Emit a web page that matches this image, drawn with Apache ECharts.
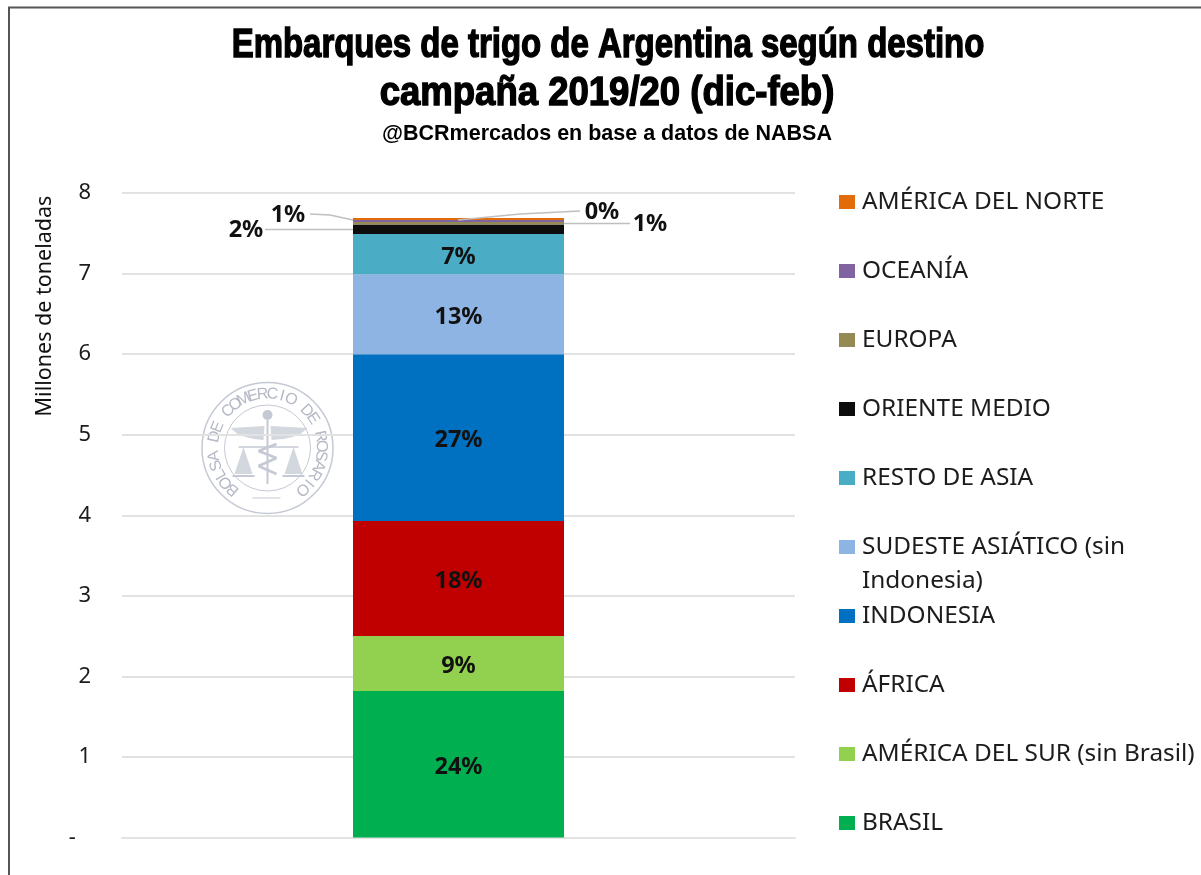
<!DOCTYPE html>
<html>
<head>
<meta charset="utf-8">
<style>html,body{margin:0;padding:0;background:#fff}#c{width:1201px;height:875px}</style>
<script src="https://cdn.jsdelivr.net/npm/echarts@6/dist/echarts.min.js"></script>
</head>
<body>
<div id="c"></div>
<script>
const categories = ['2019/20'];
const seriesNames = ['BRASIL','AMÉRICA DEL SUR (sin Brasil)','ÁFRICA','INDONESIA','SUDESTE ASIÁTICO (sin Indonesia)','RESTO DE ASIA','ORIENTE MEDIO','EUROPA','OCEANÍA','AMÉRICA DEL NORTE'];
const seriesValues = [1.82,0.68,1.43,2.07,0.99,0.50,0.12,0.03,0.025,0.025];
const shareLabels = ['24%','9%','18%','27%','13%','7%','2%','1%','0%','1%'];
const seriesColors = ['#00B050','#92D050','#C00000','#0070C0','#8EB4E3','#4BACC6','#0D0D0D','#948A54','#8064A2','#E36C09'];
const tickLabels = ['-  \u2009','1','2','3','4','5','6','7','8'];

const FONT = '"Noto Sans"';
const TXT = '#1c1c1c';
const outside = {
  6:{x:246,y:230,line:[[265,229.5],[353,229.5]]},
  7:{x:288,y:215,line:[[310,214],[330,215],[353,220]]},
  8:{x:602,y:212,line:[[580,211],[520,214],[458,220]]},
  9:{x:650,y:224,line:[[630,223.5],[564,223.5]]}
};

const series = seriesNames.map((name,i)=>{
  const s = {
    name, type:'bar', stack:'total', barWidth:211, data:[seriesValues[i]],
    itemStyle:{color:seriesColors[i]},
    label:{show:true,position:'inside',offset:[0,3],formatter:()=>shareLabels[i],fontFamily:FONT,fontWeight:'bold',fontSize:23.5,color:'#111'}
  };
  if(outside[i]){
    const o = outside[i];
    s.labelLayout = {x:o.x,y:o.y,align:'center',verticalAlign:'middle',hideOverlap:false};
  }
  return s;
});
const leaderLines = Object.values(outside).map(o=>({type:'polyline',z:20,shape:{points:o.line},style:{fill:null,stroke:'#bfbfbf',lineWidth:1.5}}));

// Watermark seal
const sc = [267.5,448];
const sealColor = '#c4c9d3';
const seal = [
  {type:'circle',shape:{cx:sc[0],cy:sc[1],r:65.5},style:{fill:'#fff',stroke:sealColor,lineWidth:1.5}},
  {type:'circle',shape:{cx:sc[0],cy:sc[1],r:43},style:{fill:'#fff',stroke:sealColor,lineWidth:1}}
];
const sealText = 'BOLSA DE COMERCIO DE ROSARIO';
const startDeg = -140, stepDeg = 280/(sealText.length-1);
[...sealText].forEach((ch,k)=>{
  const a = (startDeg+k*stepDeg)*Math.PI/180;
  seal.push({type:'text',x:sc[0]+54*Math.sin(a),y:sc[1]-54*Math.cos(a),rotation:-a,
    style:{text:ch,fontFamily:'"Liberation Sans"',fontSize:16,fill:'#b4b9c5',align:'center',verticalAlign:'middle'}});
});
const poly = pts=>({type:'polygon',shape:{points:pts.map(p=>[sc[0]+p[0],sc[1]+p[1]])},style:{fill:sealColor,opacity:0.75}});
const ln = (a,b,c,d,w)=>({type:'line',shape:{x1:sc[0]+a,y1:sc[1]+b,x2:sc[0]+c,y2:sc[1]+d},style:{stroke:sealColor,lineWidth:w||1.2}});
seal.push(
  {type:'circle',shape:{cx:sc[0],cy:sc[1]-33,r:5},style:{fill:sealColor}},
  ln(0,-28,0,36,2),
  poly([[-3,-22],[-37,-20],[-30,-14],[-22,-11],[-14,-9],[-4,-8]]),
  poly([[3,-22],[40,-20],[33,-14],[25,-11],[16,-9],[4,-8]]),
  ln(-29,-1,31,-1,1.5),
  poly([[-24,-1],[-33,26],[-15,26]]),
  poly([[26,-1],[17,26],[35,26]]),
  ln(-35,28,-13,28,2), ln(15,28,37,28,2),
  ln(-9,3,9,10,2.5), ln(9,10,-9,18,2.5), ln(-9,18,9,26,2.5), ln(9,-4,-9,3,2.5),
  ln(-15,50,13,50,1)
);

const titleFont = '"Liberation Sans"';
const chart = echarts.init(document.getElementById('c'),null,{renderer:'canvas'});
chart.setOption({
  backgroundColor:'#fff',
  animation:false,
  grid:{left:122,right:406,top:193,height:644.5},
  xAxis:{type:'category',data:categories,axisLine:{lineStyle:{color:'#e2e2e2',width:2}},axisTick:{show:false},axisLabel:{show:false}},
  yAxis:{type:'value',min:0,max:8,interval:1,
    axisLine:{show:false},axisTick:{show:false},
    splitLine:{lineStyle:{color:'#e2e2e2',width:2}},
    axisLabel:{formatter:(v)=>tickLabels[v],fontFamily:FONT,fontSize:22,color:TXT,margin:31,align:'right',padding:[3,0,0,0]}},
  legend:{left:834,top:185,orient:'vertical',icon:'rect',itemWidth:16,itemHeight:14,itemGap:45,
    data:[...seriesNames].reverse(),
    formatter:n=>n.startsWith('SUDESTE')?'SUDESTE ASIÁTICO (sin':n,
    textStyle:{fontFamily:FONT,fontSize:24.4,color:TXT,padding:[0,0,0,2]}},
  series,
  graphic:[
    {type:'polyline',shape:{points:[[9,876],[9,7.5],[1202,7.5]]},style:{fill:null,stroke:'#555',lineWidth:2},z:10},
    {type:'text',x:608,y:46,scaleX:0.824,z:10,style:{text:'Embarques de trigo de Argentina según destino',fontFamily:titleFont,fontWeight:'bold',fontSize:40,fill:'#000',stroke:'#000',lineWidth:1.4,align:'center',verticalAlign:'middle'}},
    {type:'text',x:607,y:94,scaleX:0.913,z:10,style:{text:'campaña 2019/20 (dic-feb)',fontFamily:titleFont,fontWeight:'bold',fontSize:40,fill:'#000',stroke:'#000',lineWidth:1.4,align:'center',verticalAlign:'middle'}},
    {type:'text',x:607,y:134,z:10,style:{text:'@BCRmercados en base a datos de NABSA',fontFamily:titleFont,fontWeight:'bold',fontSize:21.5,fill:'#000',align:'center',verticalAlign:'middle'}},
    {type:'text',x:45,y:306,rotation:Math.PI/2,z:10,style:{text:'Millones de toneladas',fontFamily:FONT,fontSize:21.5,fill:'#111',align:'center',verticalAlign:'middle'}},
    {type:'text',x:862,y:581,z:10,style:{text:'Indonesia)',fontFamily:FONT,fontSize:24.4,fill:TXT,align:'left',verticalAlign:'middle'}},
    {type:'group',z:5,children:seal},
    ...leaderLines
  ]
});
</script>
</body>
</html>
